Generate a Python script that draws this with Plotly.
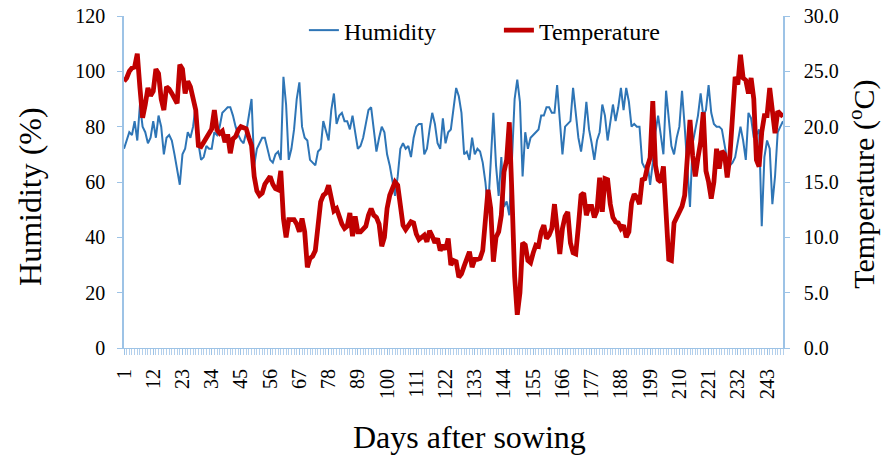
import plotly.graph_objects as go

days = list(range(1, 250))

humidity = [
    72, 75, 78, 77, 82, 75, 88, 80, 78, 74,
    76, 82, 76, 84, 80, 70, 76, 77, 75, 70,
    65, 59, 70, 72, 78, 76, 80, 88, 74, 68,
    69, 73, 72, 72, 78, 77, 80, 85, 86, 87,
    87, 84, 80, 77, 75, 74, 78, 84, 90, 66,
    72, 74, 76, 76, 72, 68, 67, 70, 71, 68,
    98, 88, 68, 72, 79, 90, 96, 80, 76, 75,
    68, 67, 66, 71, 72, 82, 78, 75, 86, 92,
    81, 84, 85, 82, 82, 79, 84, 78, 72, 73,
    76, 81, 86, 87, 78, 71, 76, 80, 78, 70,
    66, 61, 55, 62, 72, 74, 72, 73, 69, 76,
    80, 81, 81, 70, 72, 79, 85, 81, 74, 72,
    83, 74, 78, 79, 86, 94, 91, 85, 70, 71,
    68, 76, 70, 72, 71, 67, 60, 50, 67, 85,
    66, 55, 69, 51, 53, 48, 68, 90, 97, 89,
    62, 78, 72, 76, 77, 78, 79, 84, 84, 87,
    87, 85, 85, 95, 84, 70, 80, 81, 82, 94,
    84, 76, 71, 78, 89, 79, 74, 68, 75, 78,
    88, 84, 75, 82, 88, 82, 87, 94, 86, 94,
    89, 80, 81, 80, 80, 67, 65, 67, 59, 67,
    78, 84, 76, 70, 93, 82, 73, 70, 76, 80,
    93, 80, 66, 51, 74, 79, 84, 92, 84, 86,
    95, 85, 81, 80, 80, 79, 73, 68, 66, 67,
    69, 75, 80, 75, 68, 85, 83, 76, 77, 79,
    44, 69, 75, 72, 52, 62, 78, 80, 82,
]

temperature = [
    24.1, 24.4, 25.0, 25.3, 25.4, 26.6, 23.5, 20.8, 22.0, 23.5,
    22.8, 23.2, 25.2, 24.8, 22.5, 21.5, 23.6, 23.4, 23.0, 22.5,
    22.1, 25.6, 25.2, 23.0, 24.1, 23.6, 22.7, 21.5, 18.3, 18.2,
    18.6, 19.0, 19.5, 19.8, 21.5, 19.7, 19.4, 19.6, 18.6, 19.3,
    17.6, 18.9, 19.1, 19.7, 20.0, 19.9, 19.8, 19.0, 18.3, 15.5,
    14.2, 13.8, 14.0, 14.8, 15.1, 15.5, 14.8, 14.4, 14.3, 16.0,
    11.7, 10.0, 11.6, 11.6, 11.6, 11.2, 10.5, 11.7, 10.5, 7.3,
    8.1, 8.3, 8.8, 11.0, 13.2, 13.8, 14.0, 14.7, 13.3, 12.4,
    12.6, 11.8, 11.2, 10.8, 11.0, 12.2, 10.1, 11.9, 10.5, 10.5,
    10.8, 11.0, 12.0, 12.6, 12.0, 11.8, 11.2, 9.2, 10.0, 12.6,
    13.8, 14.5, 15.0, 14.7, 12.6, 11.1, 10.7, 11.0, 11.4, 11.3,
    10.3, 9.8, 10.0, 10.2, 9.6, 10.6, 10.1, 9.5, 9.9, 8.8,
    9.3, 8.9, 9.9, 7.5, 7.9, 7.8, 6.4, 6.7, 7.4, 8.0,
    8.7, 7.3, 8.0, 8.0, 8.1, 8.8, 12.0, 14.3, 12.6, 7.8,
    10.0, 10.5, 12.0, 15.9, 17.0, 20.4, 13.8, 6.5, 3.0, 5.0,
    9.5, 9.3, 7.9, 7.7, 8.6, 9.3, 9.2, 10.5, 11.1, 9.9,
    10.2, 10.8, 13.0, 10.8, 8.5, 10.8, 11.9, 12.3, 9.5, 8.6,
    8.5, 11.0, 13.8, 14.0, 12.0, 12.8, 12.8, 11.8, 12.4, 15.4,
    12.3, 15.3, 15.2, 13.0, 11.8, 11.4, 11.3, 10.8, 11.1, 10.0,
    10.5, 13.1, 13.9, 13.6, 13.0, 15.2, 15.3, 16.4, 17.2, 22.3,
    16.5, 15.2, 15.0, 16.4, 11.8, 8.0, 7.9, 11.3, 11.8, 12.3,
    12.8, 13.8, 17.0, 20.6, 17.4, 15.5, 17.2, 18.6, 21.3, 16.0,
    15.0, 13.5, 15.0, 18.0, 16.2, 17.8, 17.5, 15.4, 17.3, 21.0,
    24.5, 23.8, 26.5, 24.4, 24.2, 23.0, 24.4, 22.5, 17.0, 16.4,
    19.5, 21.0, 21.0, 23.5, 21.8, 19.4, 21.4, 21.1, 20.9,
]

series_names = ["Humidity", "Temperature"]
x_title = "Days after sowing"
y_left_title = "Humidity (%)"
y_right_title = "Temperature (<sup>o</sup>C)"

FONT = "Liberation Serif, Times New Roman, serif"
AXIS_COLOR = "#9dc3e6"

fig = go.Figure()
fig.add_trace(go.Scatter(x=days, y=humidity, name=series_names[0], mode="lines",
                         line=dict(color="#2e75b6", width=2)))
fig.add_trace(go.Scatter(x=days, y=temperature, name=series_names[1], mode="lines",
                         line=dict(color="#c00000", width=4.8), yaxis="y2"))

fig.update_layout(
    width=885, height=459,
    margin=dict(l=124, r=102, t=16, b=111, autoexpand=False),
    paper_bgcolor="white", plot_bgcolor="white",
    font=dict(family=FONT, size=20, color="black"),
    showlegend=True,
    legend=dict(orientation="h", x=0.273, y=1.024, xanchor="left", yanchor="top",
                bgcolor="rgba(0,0,0,0)", font=dict(size=24, family=FONT),
                entrywidth=150, entrywidthmode="pixels", tracegroupgap=0),
    xaxis=dict(range=[1, 249], tick0=1, dtick=11, tickangle=-90, automargin=False,
               showgrid=False, zeroline=False, showline=True, linecolor=AXIS_COLOR,
               ticks="outside", ticklen=6, tickcolor=AXIS_COLOR,
               minor=dict(dtick=1, tick0=1, ticks="outside", ticklen=6,
                          tickcolor="#b4d0ec", tickwidth=1),
               tickfont=dict(size=20, family=FONT), ticklabelstandoff=6),
    yaxis=dict(range=[0, 120], dtick=20, showgrid=False, zeroline=False, automargin=False,
               showline=True, linecolor=AXIS_COLOR, linewidth=1.5,
               ticks="outside", ticklen=5, tickcolor=AXIS_COLOR,
               tickfont=dict(size=20, family=FONT), ticklabelstandoff=8),
    yaxis2=dict(range=[0, 30], dtick=5, tickformat=".1f", overlaying="y", side="right",
                automargin=False,
                showgrid=False, zeroline=False, showline=True, linecolor=AXIS_COLOR,
                linewidth=1.5, ticks="outside", ticklen=5, tickcolor=AXIS_COLOR,
                tickfont=dict(size=20, family=FONT), ticklabelstandoff=10),
    annotations=[
        dict(text=x_title, xref="paper", yref="paper", x=0.524, y=-0.268,
             showarrow=False, font=dict(size=32, family=FONT),
             xanchor="center", yanchor="middle"),
        dict(text=y_left_title, xref="paper", yref="paper", x=-0.1426, y=0.455,
             showarrow=False, textangle=-90, font=dict(size=32, family=FONT),
             xanchor="center", yanchor="middle"),
        dict(text=y_right_title, xref="paper", yref="paper", x=1.121, y=0.494,
             showarrow=False, textangle=-90, font=dict(size=30, family=FONT),
             xanchor="center", yanchor="middle"),
    ],
)

fig.write_html("out.html", config={"displayModeBar": False},
               post_script="document.body.style.margin='0';document.body.style.padding='0';")
